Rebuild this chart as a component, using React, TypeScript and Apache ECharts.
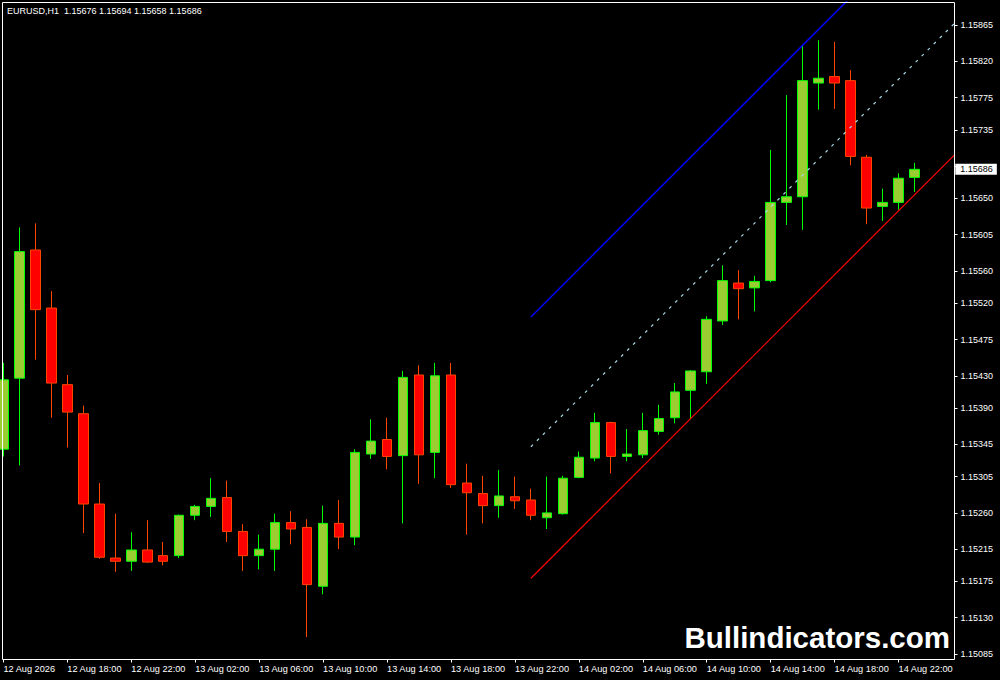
import React, { useEffect, useRef } from "react";
import * as echarts from "echarts";

const barTimes = [
  "12 Aug 14:00", "12 Aug 15:00", "12 Aug 16:00", "12 Aug 17:00", "12 Aug 18:00", "12 Aug 19:00", "12 Aug 20:00", "12 Aug 21:00", "12 Aug 22:00", "12 Aug 23:00",
  "13 Aug 00:00", "13 Aug 01:00", "13 Aug 02:00", "13 Aug 03:00", "13 Aug 04:00", "13 Aug 05:00", "13 Aug 06:00", "13 Aug 07:00", "13 Aug 08:00", "13 Aug 09:00",
  "13 Aug 10:00", "13 Aug 11:00", "13 Aug 12:00", "13 Aug 13:00", "13 Aug 14:00", "13 Aug 15:00", "13 Aug 16:00", "13 Aug 17:00", "13 Aug 18:00", "13 Aug 19:00",
  "13 Aug 20:00", "13 Aug 21:00", "13 Aug 22:00", "13 Aug 23:00",
  "14 Aug 00:00", "14 Aug 01:00", "14 Aug 02:00", "14 Aug 03:00", "14 Aug 04:00", "14 Aug 05:00", "14 Aug 06:00", "14 Aug 07:00", "14 Aug 08:00", "14 Aug 09:00",
  "14 Aug 10:00", "14 Aug 11:00", "14 Aug 12:00", "14 Aug 13:00", "14 Aug 14:00", "14 Aug 15:00", "14 Aug 16:00", "14 Aug 17:00", "14 Aug 18:00", "14 Aug 19:00",
  "14 Aug 20:00", "14 Aug 21:00", "14 Aug 22:00", "14 Aug 23:00",
];
// empty slots for the chart shift on the right
const shiftSlots = ["", ""];

const openPrices = [
  1.15339, 1.15427, 1.15586, 1.15514, 1.15419, 1.15383, 1.15271, 1.15204, 1.152, 1.15214,
  1.15207, 1.15207, 1.15257, 1.15268, 1.15279, 1.15237, 1.15207, 1.15215, 1.15248, 1.15242,
  1.15169, 1.15247, 1.1523, 1.15333, 1.15351, 1.15331, 1.15431, 1.15335, 1.15431, 1.15297,
  1.15284, 1.15269, 1.1528, 1.15276, 1.15254, 1.15259, 1.15304, 1.15328, 1.15372, 1.1533,
  1.15332, 1.15361, 1.15378, 1.15412, 1.15435, 1.15498, 1.15545, 1.15539, 1.15548, 1.15645,
  1.15652, 1.15793, 1.15801, 1.15796, 1.15701, 1.1564, 1.15645, 1.15676,
];
const closePrices = [
  1.15425, 1.15584, 1.15512, 1.15421, 1.15385, 1.15271, 1.15205, 1.152, 1.15214, 1.15199,
  1.152, 1.15257, 1.15268, 1.15278, 1.15237, 1.15207, 1.15215, 1.15248, 1.1524, 1.15171,
  1.15247, 1.1523, 1.15335, 1.15349, 1.1533, 1.15428, 1.15332, 1.1543, 1.15295, 1.15285,
  1.15269, 1.15281, 1.15275, 1.15257, 1.1526, 1.15303, 1.15329, 1.15372, 1.1533, 1.15333,
  1.15362, 1.15377, 1.1541, 1.15436, 1.155, 1.15548, 1.15538, 1.15547, 1.15645, 1.15652,
  1.15796, 1.15799, 1.15793, 1.15702, 1.15638, 1.15645, 1.15675, 1.15686,
];
const lowPrices = [
  1.1533, 1.15319, 1.1545, 1.15378, 1.15341, 1.15235, 1.15203, 1.15187, 1.15188, 1.15198,
  1.15195, 1.15204, 1.15251, 1.15255, 1.15224, 1.15188, 1.1519, 1.15188, 1.15221, 1.15106,
  1.15159, 1.15215, 1.1522, 1.15327, 1.15314, 1.15247, 1.15296, 1.15303, 1.15291, 1.15233,
  1.15247, 1.15254, 1.15265, 1.15251, 1.1524, 1.15258, 1.15303, 1.15324, 1.15309, 1.15324,
  1.15328, 1.15357, 1.15371, 1.15376, 1.1542, 1.15493, 1.155, 1.1551, 1.15546, 1.15617,
  1.15611, 1.1576, 1.15761, 1.15691, 1.15618, 1.15622, 1.15636, 1.15658,
];
const highPrices = [
  1.15446, 1.15614, 1.15619, 1.15535, 1.15431, 1.15393, 1.15297, 1.15259, 1.15236, 1.15251,
  1.15224, 1.15258, 1.1527, 1.15303, 1.153, 1.15246, 1.15233, 1.15259, 1.15262, 1.15252,
  1.15269, 1.15276, 1.15339, 1.15376, 1.15378, 1.15436, 1.15443, 1.15446, 1.15446, 1.15321,
  1.15306, 1.15313, 1.15305, 1.1529, 1.15305, 1.15306, 1.15336, 1.15384, 1.15373, 1.15364,
  1.15384, 1.15394, 1.15421, 1.15437, 1.15504, 1.15567, 1.15561, 1.15554, 1.1571, 1.15778,
  1.15839, 1.15846, 1.15844, 1.15809, 1.15704, 1.15662, 1.15681, 1.15694,
];

const xTickLabels = [
  "12 Aug 2026", "12 Aug 18:00", "12 Aug 22:00", "13 Aug 02:00", "13 Aug 06:00", "13 Aug 10:00", "13 Aug 14:00", "13 Aug 18:00",
  "13 Aug 22:00", "14 Aug 02:00", "14 Aug 06:00", "14 Aug 10:00", "14 Aug 14:00", "14 Aug 18:00", "14 Aug 22:00",
];
// tick marks on the price scale
const yTickMarks = [
  "1.15865", "1.15820", "1.15775", "1.15735", "1.15690", "1.15650", "1.15605", "1.15560", "1.15520", "1.15475",
  "1.15430", "1.15390", "1.15345", "1.15305", "1.15260", "1.15215", "1.15175", "1.15130", "1.15085",
];
// labels shown (1.15690 lies under the current price box)
const yTickLabels = [
  "1.15865", "1.15820", "1.15775", "1.15735", "1.15650", "1.15605", "1.15560", "1.15520", "1.15475",
  "1.15430", "1.15390", "1.15345", "1.15305", "1.15260", "1.15215", "1.15175", "1.15130", "1.15085",
];

// price channel (start bar index, right edge)
const channelX = [33, 59.5];
const channelUpper = [1.15503, 1.16028];
const channelMiddle = [1.15342, 1.15867];
const channelLower = [1.15179, 1.15704];

const lastPrice = 1.15686;
const yMin = 1.150782;
const yMax = 1.158935;
const titleText = "EURUSD,H1\u00a0 1.15676 1.15694 1.15658 1.15686";
const watermarkText = "Bullindicators.com";

const FONT = '"Liberation Sans", Arial, sans-serif';
// the chart canvas is shifted 5px to the left so the first bar can sit on the frame
const SHIFT = 5;

export default function App() {
  const ref = useRef<HTMLDivElement>(null);

  useEffect(() => {
    if (!ref.current) return;
    const chart = echarts.init(ref.current, undefined, { renderer: "svg" });
    const ohlc = openPrices.map((o, i) => [o, closePrices[i], lowPrices[i], highPrices[i]]);
    const yTickValues = yTickMarks.map(Number);
    const yLabelValues = yTickLabels.map(Number);
    const channelLine = (vals: number[], color: string, type: any, width: number) => ({
      type: "line",
      xAxisIndex: 1,
      yAxisIndex: 0,
      data: channelX.map((x, i) => [x, vals[i]]),
      showSymbol: false,
      symbol: "none",
      silent: true,
      clip: true,
      lineStyle: { color, width, type },
      z: 3,
    });

    const staticGraphic = [
      {
        id: "frame",
        type: "rect",
        silent: true,
        z: 100,
        shape: { x: 2.5 + SHIFT, y: 2.5, width: 952, height: 657 },
        style: { fill: "none", stroke: "#ffffff", lineWidth: 1 },
      },
      {
        id: "title",
        type: "text",
        silent: true,
        z: 100,
        x: 7 + SHIFT,
        y: 11,
        style: { text: titleText, fill: "#ffffff", fontFamily: FONT, fontSize: 9, align: "left", verticalAlign: "middle" },
      },
      {
        id: "watermark",
        type: "text",
        silent: true,
        z: 100,
        x: 950 + SHIFT,
        y: 637,
        style: {
          text: watermarkText,
          fill: "#ffffff",
          fontFamily: FONT,
          fontWeight: "bold",
          fontSize: 29.5,
          align: "right",
          verticalAlign: "middle",
        },
      },
    ];

    chart.setOption({
      animation: false,
      backgroundColor: "#000000",
      grid: { left: 0.4, right: 45.5, top: 2, bottom: 20.5, containLabel: false },
      xAxis: [
        {
          type: "category",
          data: [...barTimes, ...shiftSlots],
          boundaryGap: true,
          axisLine: { show: false, onZero: false },
          axisTick: { show: true, interval: 3, alignWithLabel: true, length: 3, lineStyle: { color: "#ffffff", width: 1 } },
          axisLabel: {
            interval: 3,
            color: "#ffffff",
            fontFamily: FONT,
            fontSize: 9.2,
            align: "left",
            verticalAlign: "middle",
            margin: 9,
            formatter: (_v: string, i: number) => xTickLabels[Math.round(i / 4)] ?? "",
          },
          splitLine: { show: false },
        },
        { type: "value", min: -0.5, max: 59.5, show: false, axisLine: { onZero: false } },
      ],
      yAxis: {
        type: "value",
        position: "right",
        min: yMin,
        max: yMax,
        axisLine: { show: false, onZero: false },
        axisTick: { show: true, length: 3, lineStyle: { color: "#ffffff", width: 1 }, customValues: yTickValues },
        axisLabel: {
          color: "#ffffff",
          fontFamily: FONT,
          fontSize: 9,
          margin: 6,
          customValues: yLabelValues,
          formatter: (v: number) => {
            const found = yTickLabels.find((s) => Math.abs(Number(s) - v) < 1e-7);
            return found ?? v.toFixed(5);
          },
        },
        splitLine: { show: false },
      },
      series: [
        {
          type: "candlestick",
          xAxisIndex: 0,
          yAxisIndex: 0,
          data: ohlc,
          barWidth: 10,
          clip: false,
          itemStyle: {
            color: "#9acd32",
            color0: "#ff0000",
            borderColor: "#00ff00",
            borderColor0: "#ff4500",
            borderWidth: 1,
          },
          z: 2,
        },
        channelLine(channelUpper, "#0000ff", "solid", 1.5),
        channelLine(channelMiddle, "#add8e6", [3, 5.5], 1.2),
        channelLine(channelLower, "#ff0000", "solid", 1.2),
      ],
      graphic: staticGraphic,
    });

    // current price box on the price scale, placed through the y axis scale
    const py = chart.convertToPixel({ yAxisIndex: 0 }, lastPrice) as number;
    const gridRight = (chart.convertToPixel({ xAxisIndex: 1 }, 59.5) as number) + 0.8;
    chart.setOption({
      graphic: [
        ...staticGraphic,
        {
          id: "priceBox",
          type: "text",
          silent: true,
          z: 120,
          x: gridRight,
          y: py,
          style: {
            text: lastPrice.toFixed(5),
            fill: "#000000",
            backgroundColor: "#ffffff",
            fontFamily: FONT,
            fontSize: 9,
            lineHeight: 9,
            padding: [1, 4, 1, 5],
            align: "left",
            verticalAlign: "middle",
          },
        },
      ],
    });
    return () => chart.dispose();
  }, []);

  return (
    <div style={{ position: "fixed", left: 0, top: 0, width: 1000, height: 680, overflow: "hidden", background: "#000" }}>
      <div
        ref={ref}
        style={{ position: "absolute", left: -SHIFT, top: 0, width: 1000 + SHIFT, height: 680 }}
      />
    </div>
  );
}
